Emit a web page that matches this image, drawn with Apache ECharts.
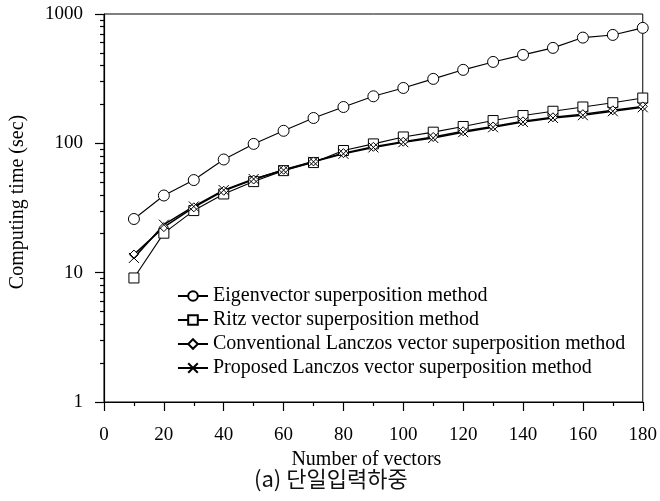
<!DOCTYPE html>
<html>
<head>
<meta charset="utf-8">
<script src="https://cdn.jsdelivr.net/npm/echarts@6/dist/echarts.min.js"></script>
<style>
  html, body { margin: 0; padding: 0; background: #fff; }
  #chart { width: 660px; height: 501px; }
</style>
</head>
<body>
<div id="chart"></div>
<script>
// ---- data ----
var xValues = [10, 20, 30, 40, 50, 60, 70, 80, 90, 100, 110, 120, 130, 140, 150, 160, 170, 180];
var eigenvector = [26, 39.5, 52, 75, 99, 125, 157, 191, 231, 268, 315, 370, 426, 483, 547, 657, 689, 781];
var ritz = [9.1, 20.2, 30.2, 40.6, 50.6, 61.5, 71, 88, 99, 112, 122, 135, 150, 164, 177, 191, 206, 224];
var conventional = [13.8, 22.5, 32, 43, 52.5, 62.5, 72.5, 84, 94, 103, 112, 124, 135, 148, 159, 168, 180, 193];
var proposed = [13, 23.5, 32.5, 43.5, 53, 62, 72, 83, 93, 102, 110, 122, 133, 146, 157, 165, 177, 190];
var seriesNames = [
  'Eigenvector superposition method',
  'Ritz vector superposition method',
  'Conventional Lanczos vector superposition method',
  'Proposed Lanczos vector superposition method'
];
var yMajorTicks = [1, 10, 100, 1000];
var yMinorTicks = [2, 3, 4, 5, 6, 7, 8, 9, 20, 30, 40, 50, 60, 70, 80, 90, 200, 300, 400, 500, 600, 700, 800, 900];
var xAxisTitle = 'Number of vectors';
var yAxisTitle = 'Computing time (sec)';
var caption = '(a) 단일입력하중';

function pairs(vals) {
  return xValues.map(function (x, i) { return [x, vals[i]]; });
}

var serif = "'Liberation Serif', 'Times New Roman', serif";
var black = '#000';

function lineSeries(name, vals, symbol, size, width) {
  return {
    name: name,
    type: 'line',
    data: pairs(vals),
    symbol: symbol,
    symbolSize: size,
    showSymbol: true,
    lineStyle: { color: black, width: width },
    itemStyle: { color: '#fff', borderColor: black, borderWidth: 1 },
    emphasis: { disabled: true },
    animation: false
  };
}

var chart = echarts.init(document.getElementById('chart'), null, { renderer: 'canvas' });
chart.setOption({
  backgroundColor: '#fff',
  animation: false,
  title: {
    text: caption,
    left: 249,
    top: 463,
    textStyle: { fontFamily: "'Noto Sans CJK KR', sans-serif", fontSize: 22, fontWeight: 'normal', color: '#111' }
  },
  grid: {
    left: 103, right: 15, top: 14, bottom: 99,
    show: true, borderColor: black, borderWidth: 1, backgroundColor: 'transparent'
  },
  legend: {
    orient: 'vertical',
    left: 172,
    top: 281,
    itemWidth: 30,
    itemHeight: 12,
    itemGap: 4,
    textStyle: { fontFamily: serif, fontSize: 20, color: black },
    data: seriesNames
  },
  xAxis: {
    type: 'value',
    min: 0,
    max: 180,
    interval: 20,
    name: xAxisTitle,
    nameLocation: 'middle',
    nameGap: 44,
    nameTextStyle: { fontFamily: serif, fontSize: 20, color: black, padding: [0, 14, 0, 0] },
    axisLine: { show: true, lineStyle: { color: black, width: 1.2 } },
    axisTick: { show: true, inside: false, length: 9, lineStyle: { color: black, width: 1.2 } },
    minorTick: { show: true, splitNumber: 2, length: 4, lineStyle: { color: black, width: 1.2 } },
    axisLabel: { margin: 24, fontFamily: serif, fontSize: 19, color: black },
    splitLine: { show: false },
    minorSplitLine: { show: false }
  },
  yAxis: [
    {
      type: 'log',
      logBase: 10,
      min: 1,
      max: 1000,
      name: yAxisTitle,
      nameLocation: 'middle',
      nameGap: 76,
      nameTextStyle: { fontFamily: serif, fontSize: 20, color: black, padding: [0, 0, 0, 12] },
      axisLine: { show: true, lineStyle: { color: black, width: 1.2 } },
      axisTick: { show: true, inside: false, length: 9, customValues: yMajorTicks, lineStyle: { color: black, width: 1.2 } },
      axisLabel: {
        margin: 21, fontFamily: serif, fontSize: 19, color: black, customValues: yMajorTicks,
        formatter: function (v) { return String(v); }
      },
      splitLine: { show: false }
    },
    {
      type: 'log',
      logBase: 10,
      min: 1,
      max: 1000,
      position: 'left',
      offset: 0,
      axisLine: { show: false },
      axisTick: { show: true, inside: false, length: 4, customValues: yMinorTicks, lineStyle: { color: black, width: 1.2 } },
      axisLabel: { show: false },
      splitLine: { show: false }
    }
  ],
  series: [
    lineSeries(seriesNames[0], eigenvector, 'circle', 11, 1.1),
    lineSeries(seriesNames[1], ritz, 'rect', 10, 1.1),
    lineSeries(seriesNames[2], conventional, 'diamond', 9, 1.5),
    lineSeries(seriesNames[3], proposed, 'path://M0,0L10,10M10,0L0,10', 10, 1.5)
  ]
});
</script>
</body>
</html>
